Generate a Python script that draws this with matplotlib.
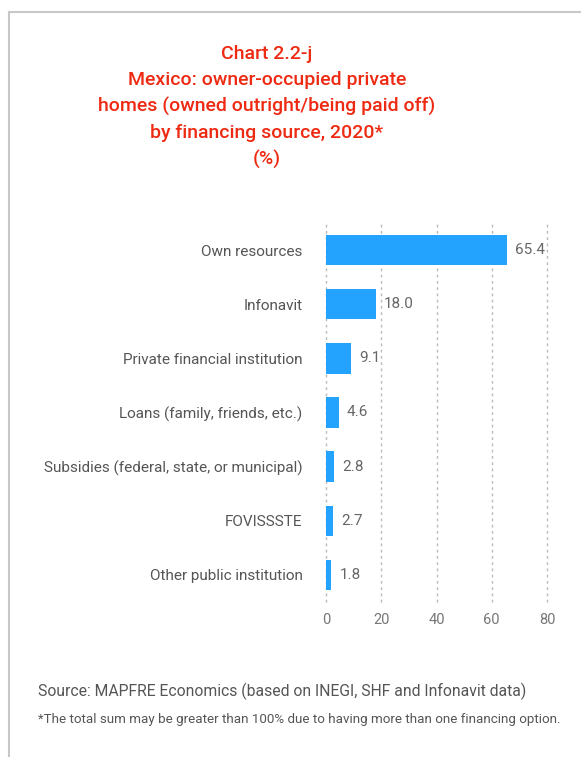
import matplotlib.pyplot as plt
from matplotlib.lines import Line2D

categories = ["Own resources", "Infonavit", "Private financial institution",
              "Loans (family, friends, etc.)", "Subsidies (federal, state, or municipal)",
              "FOVISSSTE", "Other public institution"]
values = [65.4, 18.0, 9.1, 4.6, 2.8, 2.7, 1.8]
xticks = [0, 20, 40, 60, 80]

plt.rcParams['font.family'] = ['Roboto', 'DejaVu Sans']

W, H = 581, 757
fig = plt.figure(figsize=(W / 100, H / 100), dpi=100)

# frame lines (top and left)
fig.add_artist(Line2D([9 / W, 9 / W], [0, 1 - 12 / H], transform=fig.transFigure,
                      color='#c8c8c8', lw=1.5))
fig.add_artist(Line2D([9 / W, 1], [1 - 12 / H, 1 - 12 / H], transform=fig.transFigure,
                      color='#c8c8c8', lw=1.5))

title = ("Chart 2.2-j\nMexico: owner-occupied private\nhomes (owned outright/being paid off)\n"
         "by financing source, 2020*\n(%)")
fig.text(267 / W, 1 - 45 / H, title, ha='center', va='top', color='#ee2a12',
         fontsize=14, fontweight='medium', linespacing=1.56)

ax = fig.add_axes([326 / W, 1 - 602 / H, (547 - 326) / W, (602 - 223) / H])
y = list(range(len(categories)))
ax.barh(y, values, height=0.56, color='#23a3fd')
ax.set_ylim(len(categories) - 0.5, -0.5)
ax.set_xlim(0, 80)
ax.set_xticks(xticks)
ax.set_yticks(y)
ax.set_yticklabels(categories)
ax.tick_params(axis='y', length=0, pad=17, labelsize=11, labelcolor='#555555')
ax.tick_params(axis='x', length=0, pad=8, labelsize=10.5, labelcolor='#777777')
for s in ax.spines.values():
    s.set_visible(False)
ax.grid(axis='x', color='#bbbbbb', linestyle=(0, (2, 2.5)), lw=1)
for gl in ax.get_xgridlines():
    gl.set_clip_on(False)
ax.set_axisbelow(True)
for yi, v in zip(y, values):
    ax.text(v + 3, yi, f"{v:.1f}", va='center', ha='left', fontsize=11,
            color='#666666')

fig.text(38 / W, 1 - 691 / H, "Source: MAPFRE Economics (based on INEGI, SHF and Infonavit data)",
         ha='left', va='center', fontsize=11.3, color='#555555')
fig.text(38 / W, 1 - 719 / H,
         "*The total sum may be greater than 100% due to having more than one financing option.",
         ha='left', va='center', fontsize=9.6, color='#555555')

fig.savefig("out.png", dpi=100)
